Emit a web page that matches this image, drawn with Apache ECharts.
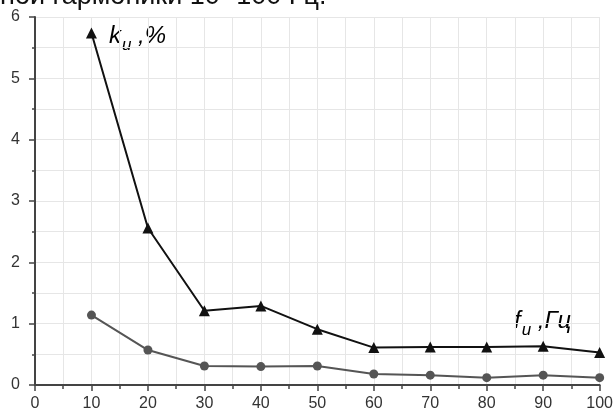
<!DOCTYPE html>
<html><head><meta charset="utf-8">
<script src="https://cdn.jsdelivr.net/npm/echarts@6/dist/echarts.min.js"></script>
<style>html,body{margin:0;padding:0;background:#fff}#c{width:616px;height:412px}</style>
</head><body><div id="c"></div>
<script>
const freqs = [10, 20, 30, 40, 50, 60, 70, 80, 90, 100];
const kTop = [5.74, 2.56, 1.21, 1.29, 0.91, 0.61, 0.62, 0.62, 0.63, 0.53];
const kBottom = [1.14, 0.57, 0.31, 0.30, 0.31, 0.18, 0.16, 0.12, 0.16, 0.12];
const xTicks = [0, 10, 20, 30, 40, 50, 60, 70, 80, 90, 100];
const yTicks = [0, 1, 2, 3, 4, 5, 6];

const chart = echarts.init(document.getElementById('c'));
const axisCol = '#444';
const font = 'Arial, Liberation Sans, sans-serif';
chart.setOption({
  animation: false,
  grid: {left: 35, right: 16, top: 17, bottom: 23, containLabel: false},
  xAxis: {
    type: 'value', min: 0, max: 100, interval: 10,
    axisLine: {show: true, onZero: false, lineStyle: {color: axisCol, width: 2}},
    axisTick: {show: true, length: 6, lineStyle: {color: axisCol, width: 1.5}},
    minorTick: {show: true, splitNumber: 2, length: 4, lineStyle: {color: axisCol, width: 1.5}},
    splitLine: {show: true, lineStyle: {color: '#e6e6e6', width: 1}},
    minorSplitLine: {show: true, lineStyle: {color: '#e6e6e6', width: 1}},
    axisLabel: {color: '#333', fontSize: 16, fontFamily: font, margin: 11,
      formatter: v => xTicks.includes(v) ? String(v) : ''}
  },
  yAxis: {
    type: 'value', min: 0, max: 6, interval: 1,
    axisLine: {show: true, lineStyle: {color: axisCol, width: 2}},
    axisTick: {show: true, length: 6, lineStyle: {color: axisCol, width: 1.5}},
    minorTick: {show: true, splitNumber: 2, length: 3, lineStyle: {color: axisCol, width: 1.5}},
    splitLine: {show: true, lineStyle: {color: '#e6e6e6', width: 1}},
    minorSplitLine: {show: true, lineStyle: {color: '#e6e6e6', width: 1}},
    axisLabel: {color: '#333', fontSize: 16, fontFamily: font, margin: 15,
      formatter: v => yTicks.includes(v) ? String(v) : ''}
  },
  series: [
    {type: 'line', data: freqs.map((f, i) => [f, kBottom[i]]), symbol: 'circle', symbolSize: 9,
      lineStyle: {color: '#555', width: 2}, itemStyle: {color: '#555'}, z: 2},
    {type: 'line', data: freqs.map((f, i) => [f, kTop[i]]), symbol: 'triangle', symbolSize: 11,
      lineStyle: {color: '#111', width: 2}, itemStyle: {color: '#111'}, z: 3}
  ],
  graphic: [
    {type: 'text', x: 0, y: -3, style: {text: 'ной гармоники 10 -100 Гц.', fontSize: 27,
      fontFamily: font, fill: '#111', verticalAlign: 'middle'}},
    {type: 'text', left: 109, top: 24, style: {
      text: '{a|k}{b|u}{a| ,%}',
      rich: {
        a: {fontSize: 24, fontStyle: 'italic', fontFamily: font, fill: '#000', verticalAlign: 'bottom'},
        b: {fontSize: 17, fontStyle: 'italic', fontFamily: font, fill: '#000', verticalAlign: 'bottom', padding: [0, 0, -6, 1]}
      }}},
    {type: 'text', left: 514, top: 309, style: {
      text: '{a|f}{b|u}{a| ,Гц}',
      rich: {
        a: {fontSize: 24, fontStyle: 'italic', fontFamily: font, fill: '#000', verticalAlign: 'bottom'},
        b: {fontSize: 17, fontStyle: 'italic', fontFamily: font, fill: '#000', verticalAlign: 'bottom', padding: [0, 0, -6, 1]}
      }}}
  ]
});
</script></body></html>
